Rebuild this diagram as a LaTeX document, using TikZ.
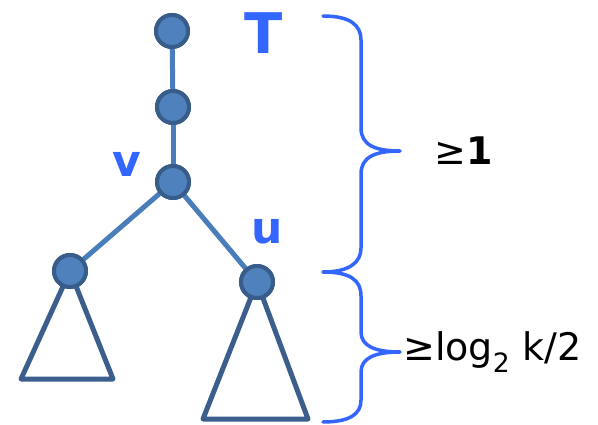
\documentclass[tikz,border=0pt]{standalone}
\usepackage{fontspec}
\setmainfont{DejaVu Sans}
\definecolor{nodefill}{HTML}{4F81BD}
\definecolor{nodeline}{HTML}{385D8A}
\definecolor{edgecol}{HTML}{4A7EBB}
\definecolor{tricol}{HTML}{3B5E8C}
\definecolor{bracecol}{HTML}{3366FF}
\begin{document}
\begin{tikzpicture}[x=1pt,y=-1pt,
  vert/.style={circle,fill=nodefill,draw=nodeline,line width=4pt,minimum size=32pt,inner sep=0pt},
  edge/.style={draw=edgecol,line width=5pt},
  tri/.style={draw=tricol,line width=5pt,line join=round},
  brace/.style={draw=bracecol,line width=3.5pt,line cap=round},
  lbl/.style={text=bracecol,font=\fontsize{44}{44}\selectfont\bfseries,inner sep=0pt},
  meas/.style={text=black,font=\fontsize{38}{38}\selectfont,anchor=west,inner sep=0pt}]
\useasboundingbox (0,0) rectangle (598,425);
% triangles (behind nodes)
\coordinate (l1) at (21,379);
\coordinate (l2) at (113,379);
\coordinate (r1) at (203,419);
\coordinate (r2) at (308,419);
\draw[tri] (70,271) -- (l2) -- (l1) -- cycle;
\draw[tri] (257,282) -- (r2) -- (r1) -- cycle;
% nodes
\node[vert] (a) at (172,31) {};
\node[vert] (b) at (173,107) {};
\node[vert] (v) at (173,182) {};
\node[vert] (w) at (70,271) {};
\node[vert] (u) at (257,282) {};
% edges
\draw[edge] (a) -- (b);
\draw[edge] (b) -- (v);
\draw[edge] (v) -- (w);
\draw[edge] (v) -- (u);
% re-draw nodes on top
\node[vert] at (a) {};
\node[vert] at (b) {};
\node[vert] at (v) {};
\node[vert] at (w) {};
\node[vert] at (u) {};
% labels
\node[lbl,font=\fontsize{56}{56}\selectfont\bfseries] (tl) at (264,33) {T};
\node[lbl] (vl) at (127,164) {v};
\node[lbl] (ul) at (267,232) {u};
% braces
\coordinate (b1s) at (323,16);
\coordinate (b1t) at (400,151);
\coordinate (b1e) at (323,272);
\coordinate (b2e) at (323,422);
\coordinate (b2t) at (400,352);
\path[brace] (b1s) .. controls (350,16) and (361,25) .. (361,40)
  -- (361,128) .. controls (361,145) and (375,151) .. (b1t)
  (b1t) .. controls (375,151) and (361,157) .. (361,174)
  -- (361,248) .. controls (361,262) and (350,272) .. (b1e);
\path[brace] (b1e) .. controls (350,272) and (361,280) .. (361,296)
  -- (361,332) .. controls (361,346) and (375,352) .. (b2t)
  (b2t) .. controls (375,352) and (361,358) .. (361,372)
  -- (361,400) .. controls (361,414) and (350,422) .. (b2e);
% measure texts
\node[meas] (m1) at (434,151) {≥\textbf{1}};
\node[meas] (m2) at (403,352) {≥log\textsubscript{2} k/2};
\end{tikzpicture}
\end{document}
